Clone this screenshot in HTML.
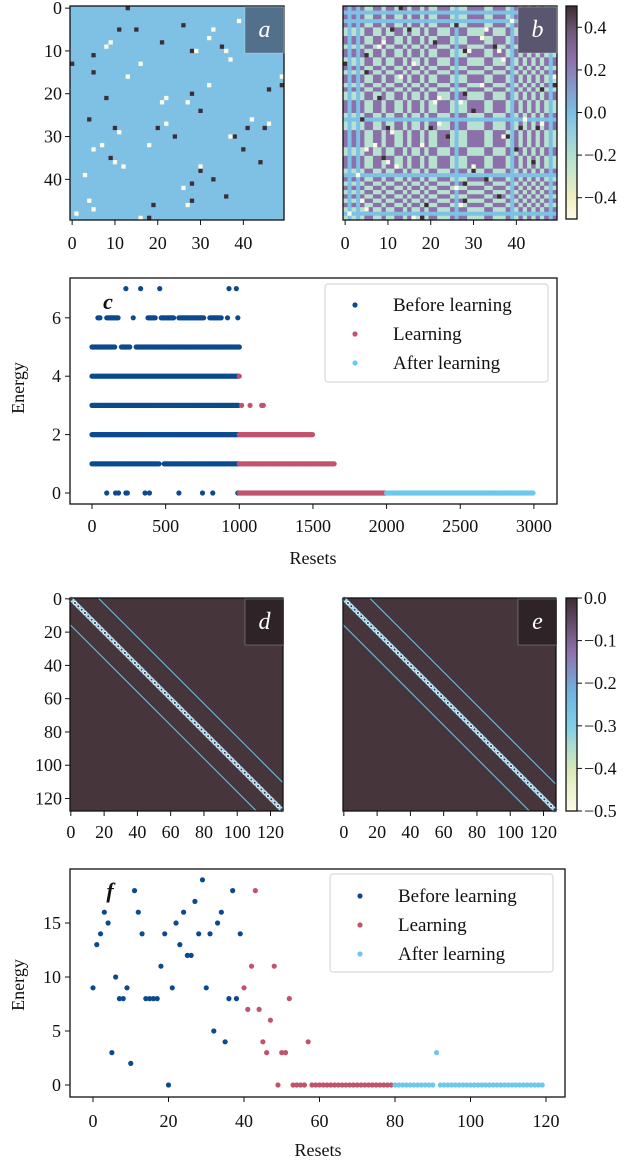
<!DOCTYPE html>
<html><head><meta charset="utf-8"><style>
html,body{margin:0;padding:0;background:#fff}
svg{display:block;font-family:"Liberation Serif",serif}
text{fill:#111}
</style></head><body>
<svg id="fig" width="640" height="1160" viewBox="0 0 640 1160" xmlns="http://www.w3.org/2000/svg"></svg>
<script>
// ---------- data ----------
const darkCells=[[0,13],[5,11],[5,15],[4,26],[8,21],[10,28],[9,35],[11,5],[13,0],[15,5],[21,8],[20,28],[19,46],[18,49],[24,30],[26,4],[28,10],[28,20],[30,24],[30,38],[28,41],[28,45],[33,40],[35,9],[36,44],[38,30],[40,33],[41,28],[44,36],[45,28],[46,19],[49,18]];
const whiteCells=[[48,1],[3,39],[5,33],[7,32],[8,9],[9,8],[10,29],[10,36],[12,37],[13,16],[16,13],[18,32],[16,49],[22,21],[21,22],[22,27],[27,22],[26,42],[27,46],[29,11],[30,37],[32,7],[32,18],[33,5],[36,10],[37,12],[39,3],[37,30],[42,26],[45,4],[47,5],[46,27],[49,16],[1,48]];
const signs=[1,0,1,0,1,-1,-1,1,1,-1,1,1,-1,-1,1,-1,1,1,-1,1,-1,-1,1,1,1,-1,0,-1,-1,1,1,1,1,-1,-1,1,1,1,-1,0,1,-1,1,-1,1,-1,1,-1,0,-1];
const cb1Ticks=[0.4,0.2,0.0,-0.2,-0.4];
const cb2Ticks=[0.0,-0.1,-0.2,-0.3,-0.4,-0.5];
const heatTicks=[0,10,20,30,40];
const bigTicks=[0,20,40,60,80,100,120];
// panel c: ranges of resets per energy level, [level,start,end]
const cBeforeRanges=[[6,40,60],[6,100,180],[6,380,430],[6,470,560],[6,590,760],[6,800,880],[5,0,160],[5,200,260],[5,300,1000],[4,0,1000],[3,0,1000],[2,0,1000],[1,0,460],[1,490,1000]];
const cBeforePoints=[[7,230],[7,330],[7,460],[7,930],[7,980],[6,280],[6,920],[6,990],[0,100],[0,160],[0,180],[0,230],[0,240],[0,360],[0,390],[0,590],[0,750],[0,820],[0,990]];
const cLearnRanges=[[2,1000,1500],[1,1000,1650],[0,1000,2000]];
const cLearnPoints=[[4,1000],[3,1016],[3,1073],[3,1152],[3,1163]];
const cAfterRanges=[[0,2000,3000]];
const cXTicks=[0,500,1000,1500,2000,2500,3000];
const cYTicks=[0,2,4,6];
// panel f
const fBefore=[9,13,14,16,15,3,10,8,8,9,2,18,16,14,8,8,8,8,11,14,0,9,15,13,16,12,12,17,14,19,9,14,5,15,16,4,8,18,8,14];
const fLearn=[9,7,11,18,7,4,3,6,11,0,3,3,8,0,0,0,0,4,0,0,0,0,0,0,0,0,0,0,0,0,0,0,0,0,0,0,0,0,0,0];
const fAfter=[0,0,0,0,0,0,0,0,0,0,0,3,0,0,0,0,0,0,0,0,0,0,0,0,0,0,0,0,0,0,0,0,0,0,0,0,0,0,0,0];
const fYTicks=[0,5,10,15];
const legendLabels=["Before learning","Learning","After learning"];
// ---------- helpers ----------
const NS="http://www.w3.org/2000/svg";
const svg=document.getElementById('fig');
const FS=18;
function mk(tag,attrs,parent){const e=document.createElementNS(NS,tag);for(const k in attrs)e.setAttribute(k,attrs[k]);(parent||svg).appendChild(e);return e;}
function txt(s,x,y,anchor,size,parent,style){const t=mk('text',{x:x,y:y,'text-anchor':anchor||'middle','font-size':size||FS},parent);if(style)t.setAttribute('style',style);t.textContent=s;return t;}
const C_BEF="#0b4a8f",C_LRN="#c1546c",C_AFT="#6cc8ee";
const C_BG="#7fc0e5",C_DARK="#3e2d33",C_WHITE="#fdfbe6",C_PUR="#8c70aa",C_GRN="#b6e2cf";
function fmt(v,d){const s=Math.abs(v).toFixed(d);return (v<0?"\u2212":"")+s;}

// ---------- heatmap a,b ----------
function heat50(x0,y0,name,useSigns){
  const g=mk('g',{});
  
  
  const cs=214/50;
  const bg=mk('rect',{x:x0,y:y0,width:214,height:214,fill:C_BG},g);
  
  
  if(useSigns){
    for(let i=0;i<50;i++)for(let j=0;j<50;j++){
      const v=signs[i]*signs[j];
      if(v===0)continue;
      const r=mk('rect',{x:x0+j*cs,y:y0+i*cs,width:cs+0.3,height:cs+0.3,fill:v>0?C_PUR:C_GRN},g);
      
      
    }
  }
  darkCells.forEach(([r,c])=>{const e=mk('rect',{x:x0+c*cs,y:y0+r*cs,width:cs,height:cs,fill:C_DARK},g);
    
    });
  whiteCells.forEach(([r,c])=>{const e=mk('rect',{x:x0+c*cs,y:y0+r*cs,width:cs,height:cs,fill:C_WHITE},g);
    
    });
  const fr=mk('rect',{x:x0,y:y0,width:214,height:214,fill:'none',stroke:'#111','stroke-width':1.3},g);
  
  
  heatTicks.forEach(v=>{
    const p=x0+(v+0.5)*cs;
    mk('line',{x1:p,x2:p,y1:y0+214,y2:y0+219,stroke:'#111'},g);
    const t=txt(String(v),p,y0+243,'middle',FS,g);
    
    
    if(x0<100){
      const q=y0+(v+0.5)*cs;
      mk('line',{x1:x0-5,x2:x0,y1:q,y2:q,stroke:'#111'},g);
      const t2=txt(String(v),x0-8,q+6,'end',FS,g);
      
      
    }
  });
}
heat50(70,6,'heatmap-a',false);
heat50(343,6,'heatmap-b',true);

function panelLabel(x,y,w,h,fill,letter,name){
  const b=mk('rect',{x:x,y:y,width:w,height:h,fill:fill,stroke:'rgba(255,255,255,0.25)','stroke-width':1});
  
  
  const t=txt(letter,x+w/2,y+h/2+7,'middle',24,null,'font-style:italic;fill:#fff');
  
  
}
panelLabel(245,7,39,46,'#52708c','a','panel-label-a');
panelLabel(518,7,39,46,'#5a5670','b','panel-label-b');

// ---------- colorbars ----------
function colorbar(x,y,h,stops,ticks,vmin,vmax,dec,name){
  const id='grad'+name;
  const defs=mk('defs',{});
  const lg=mk('linearGradient',{id:id,x1:0,y1:0,x2:0,y2:1},defs);
  stops.forEach(([o,c])=>mk('stop',{offset:o,'stop-color':c},lg));
  const r=mk('rect',{x:x,y:y,width:11,height:h,fill:'url(#'+id+')',stroke:'#111','stroke-width':1.3});
  
  
  ticks.forEach(v=>{
    const p=y+(vmax-v)/(vmax-vmin)*h;
    mk('line',{x1:x+11,x2:x+16,y1:p,y2:p,stroke:'#111'});
    const t=txt(fmt(v,dec),x+18,p+6,'start',FS);
    
    
  });
}
colorbar(566,6,213,[[0,'#3e2d33'],[0.12,'#6f5878'],[0.25,'#8e70ab'],[0.5,'#7cbfe5'],[0.72,'#b6e2cf'],[0.9,'#f0efc0'],[1,'#fdfbe6']],cb1Ticks,-0.5,0.5,1,'colorbar-top');
colorbar(566,598,213,[[0,'#3e2d33'],[0.1,'#5e4860'],[0.25,'#8f70ab'],[0.45,'#6fb5e3'],[0.6,'#7fcfe6'],[0.8,'#d8e8b8'],[1,'#fffbe6']],cb2Ticks,-0.5,0,1,'colorbar-bottom');

// ---------- heatmaps d,e ----------
function heat128(x0,y0,name,upOff,loOff){
  const g=mk('g',{});
  
  
  const S=213,cs=S/128;
  const bg=mk('rect',{x:x0,y:y0,width:S,height:S,fill:'#46363c'},g);
  
  
  const l1=mk('line',{x1:x0+upOff*cs,y1:y0,x2:x0+S,y2:y0+(128-upOff)*cs,stroke:'#6cc5ea','stroke-width':1},g);
  
  
  const l2=mk('line',{x1:x0,y1:y0+loOff*cs,x2:x0+(128-loOff)*cs,y2:y0+S,stroke:'#6cc5ea','stroke-width':1},g);
  
  
  const band=mk('line',{x1:x0,y1:y0,x2:x0+S,y2:y0+S,stroke:'#7cc8ec','stroke-width':4.5},g);
  
  
  for(let i=0;i<128;i+=2){
    const c=mk('circle',{cx:x0+(i+1)*cs,cy:y0+(i+1)*cs,r:1.5,fill:'#46363c',stroke:'#e8f8fd','stroke-width':0.9},g);
    
    
  }
  const fr=mk('rect',{x:x0,y:y0,width:S,height:S,fill:'none',stroke:'#111','stroke-width':1.3},g);
  
  
  bigTicks.forEach(v=>{
    const p=x0+(v+0.5)*cs;
    mk('line',{x1:p,x2:p,y1:y0+S,y2:y0+S+5,stroke:'#111'},g);
    const t=txt(String(v),p,y0+S+27,'middle',FS,g);
    
    
    if(x0<100){
      const q=y0+(v+0.5)*cs;
      mk('line',{x1:x0-5,x2:x0,y1:q,y2:q,stroke:'#111'},g);
      const t2=txt(String(v),x0-8,q+6,'end',FS,g);
      
      
    }
  });
}
heat128(70,598,'heatmap-d',17,16);
heat128(343,598,'heatmap-e',16,16);
panelLabel(245,599,39,46,'#2e2427','d','panel-label-d');
panelLabel(518,599,39,46,'#2e2427','e','panel-label-e');

// ---------- scatter helper ----------
function axesBox(L,T,R,B,name){
  const r=mk('rect',{x:L,y:T,width:R-L,height:B-T,fill:'none',stroke:'#111','stroke-width':1.3});
  
  
}
function dot(x,y,c,name){
  const e=mk('circle',{cx:x,cy:y,r:2.6,fill:c});
  
  
}
function legend(x,y,w,h,rows,name){
  const b=mk('rect',{x:x,y:y,width:w,height:h,rx:3,fill:'#fff',stroke:'#d8d8d8','stroke-width':1.2});
  
  
  const cols=[C_BEF,C_LRN,C_AFT];
  legendLabels.forEach((s,i)=>{
    const yy=y+rows[i];
    const m=mk('circle',{cx:x+30,cy:yy,r:2.6,fill:cols[i]});
    
    
    const t=txt(s,x+68,yy+6,'start',19);
    
    
  });
}

// ---------- panel c ----------
const cx=v=>92+v*0.1473, cy=v=>493-v*29.2;
axesBox(70,278,557,504,'axes-c');
function rangesDots(ranges,col,name){ranges.forEach(([lv,a,b])=>{for(let v=a;v<=b;v+=7)dot(cx(v),cy(lv),col,name);});}
rangesDots(cBeforeRanges,C_BEF,'point-before');
cBeforePoints.forEach(([lv,v])=>dot(cx(v),cy(lv),C_BEF,'point-before'));
rangesDots(cLearnRanges,C_LRN,'point-learning');
cLearnPoints.forEach(([lv,v])=>dot(cx(v),cy(lv),C_LRN,'point-learning'));
rangesDots(cAfterRanges,C_AFT,'point-after');
cXTicks.forEach(v=>{mk('line',{x1:cx(v),x2:cx(v),y1:504,y2:509,stroke:'#111'});
  const t=txt(String(v),cx(v),532,'middle',FS);
  
  });
cYTicks.forEach(v=>{mk('line',{x1:65,x2:70,y1:cy(v),y2:cy(v),stroke:'#111'});
  const t=txt(String(v),61,cy(v)+6,'end',FS);
  
  });
let t=txt('Resets',313,564,'middle',FS);


t=txt('Energy',24,388,'middle',FS);
t.setAttribute('transform','rotate(-90 24 388)');


t=txt('c',108,309,'middle',22,null,'font-style:italic;font-weight:bold');


legend(325,284,223,98,[21,50,79],'legend-c');

// ---------- panel f ----------
const fx=v=>93+v*3.775, fy=v=>1085-v*10.8;
axesBox(70,869,565,1097,'axes-f');
fBefore.forEach((v,i)=>dot(fx(i),fy(v),C_BEF,'point-before'));
fLearn.forEach((v,i)=>dot(fx(40+i),fy(v),C_LRN,'point-learning'));
fAfter.forEach((v,i)=>{if(80+i===91&&v===0)return;dot(fx(80+i),fy(v),C_AFT,'point-after');});
bigTicks.forEach(v=>{mk('line',{x1:fx(v),x2:fx(v),y1:1097,y2:1102,stroke:'#111'});
  const t=txt(String(v),fx(v),1127,'middle',FS);
  
  });
fYTicks.forEach(v=>{mk('line',{x1:65,x2:70,y1:fy(v),y2:fy(v),stroke:'#111'});
  const t=txt(String(v),61,fy(v)+6,'end',FS);
  
  });
t=txt('Resets',318,1156,'middle',FS);


t=txt('Energy',24,985,'middle',FS);
t.setAttribute('transform','rotate(-90 24 985)');


t=txt('f',110,898,'middle',22,null,'font-style:italic;font-weight:bold');


legend(330,874,223,98,[22,51,80],'legend-f');
</script>
</body></html>
